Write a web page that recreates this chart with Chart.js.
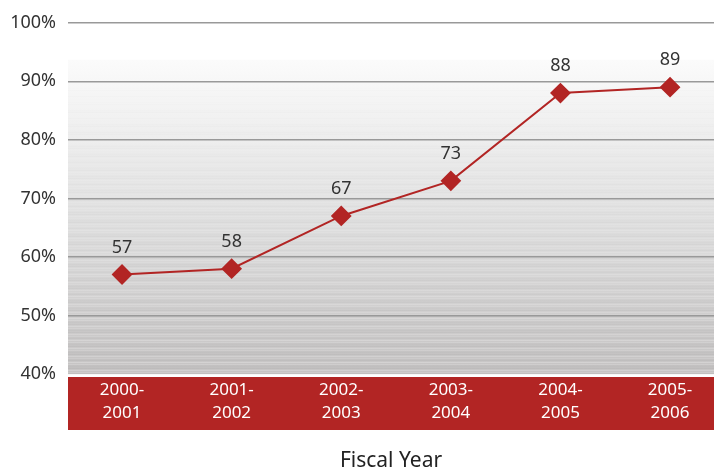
<!DOCTYPE html>
<html>
<head>
<meta charset="utf-8">
<script src="https://cdn.jsdelivr.net/npm/chart.js@4/dist/chart.umd.min.js"></script>
<style>
  html, body { margin: 0; padding: 0; background: #fff; overflow: hidden; }
  #canvas { display: block; }
</style>
</head>
<body>
<canvas id="canvas" width="714" height="469"></canvas>
<script>
const years = [['2000-', '2001'], ['2001-', '2002'], ['2002-', '2003'], ['2003-', '2004'], ['2004-', '2005'], ['2005-', '2006']];
const rates = [57, 58, 67, 73, 88, 89];
const yTicks = [40, 50, 60, 70, 80, 90, 100];

const RED = '#b22524';
const FONT = "'Noto Sans', 'Open Sans', sans-serif";

// grey fade behind the plot, with thin horizontal streaks
const backdrop = {
  id: 'backdrop',
  beforeDraw(chart) {
    const { ctx, chartArea: a } = chart;
    const top = a.top + 37;
    ctx.save();
    const g = ctx.createLinearGradient(0, top, 0, a.bottom);
    g.addColorStop(0, '#fbfbfb');
    g.addColorStop(0.5, '#e0e0e0');
    g.addColorStop(1, '#c3c1c1');
    ctx.fillStyle = g;
    ctx.fillRect(a.left, top, a.right - a.left, a.bottom - top);
    for (let y = top; y < a.bottom; y += 2) {
      const t = (y - top) / (a.bottom - top);
      const k = ((y * 37) % 11) / 11;
      ctx.fillStyle = k > 0.5 ? `rgba(255,255,255,${0.35 * t * k})` : `rgba(120,120,120,${0.12 * t * (1 - k)})`;
      ctx.fillRect(a.left, y, a.right - a.left, 1);
    }
    // red band holding the year labels
    ctx.fillStyle = RED;
    ctx.fillRect(a.left, a.bottom + 3, chart.width - a.left, 53);
    ctx.restore();
  }
};

const valueLabels = {
  id: 'valueLabels',
  afterDatasetsDraw(chart) {
    const { ctx } = chart;
    const meta = chart.getDatasetMeta(0);
    ctx.save();
    ctx.fillStyle = '#333';
    ctx.font = '18px ' + FONT;
    ctx.textAlign = 'center';
    ctx.textBaseline = 'middle';
    meta.data.forEach((pt, i) => {
      ctx.fillText(String(rates[i]), pt.x, pt.y - 27);
    });
    ctx.restore();
  }
};

const config = {
  type: 'line',
  data: {
    datasets: [{
      data: rates.map((v, i) => ({ x: i, y: v })),
      borderColor: RED,
      backgroundColor: RED,
      borderWidth: 2,
      pointStyle: 'rectRot',
      pointRadius: 9,
      pointHoverRadius: 9,
      fill: false,
      tension: 0,
    }],
  },
  options: {
    responsive: false,
    animation: false,
    layout: { autoPadding: false, padding: { top: 20, right: 0, bottom: 0, left: 0 } },
    plugins: { legend: { display: false }, tooltip: { enabled: false } },
    scales: {
      x: {
        type: 'linear',
        // the last year column runs a little past the right edge
        min: -0.493,
        max: 5.401,
        afterBuildTicks(scale) { scale.ticks = years.map((_, i) => ({ value: i })); },
        grid: { display: false, drawTicks: false },
        border: { display: false },
        ticks: {
          color: '#fff',
          font: { family: FONT, size: 17, lineHeight: 1.35 },
          padding: 5,
          maxRotation: 0,
          autoSkip: false,
          callback: v => years[v],
        },
        title: {
          display: true,
          text: 'Fiscal Year',
          color: '#222',
          font: { family: FONT, size: 21 },
          padding: { top: 0, bottom: -5 },
        },
        afterFit(scale) {
          scale.height = 95;
          scale.paddingLeft = 0;
          scale.paddingRight = 0;
        },
      },
      y: {
        min: 40,
        max: 100,
        afterBuildTicks(scale) { scale.ticks = yTicks.map(v => ({ value: v })); },
        grid: {
          drawTicks: false,
          lineWidth: 1.6,
          color: c => (c.tick && c.tick.value === 40 ? 'rgba(0,0,0,0)' : '#999'),
        },
        border: { display: false },
        ticks: {
          color: '#333',
          font: { family: FONT, size: 18 },
          padding: 12,
          callback: v => v + '%',
        },
        afterFit(scale) { scale.width = 68; },
      },
    },
  },
  plugins: [backdrop, valueLabels],
};

const ctx = document.getElementById('canvas').getContext('2d');
window.myLine = new Chart(ctx, config);
</script>
</body>
</html>
